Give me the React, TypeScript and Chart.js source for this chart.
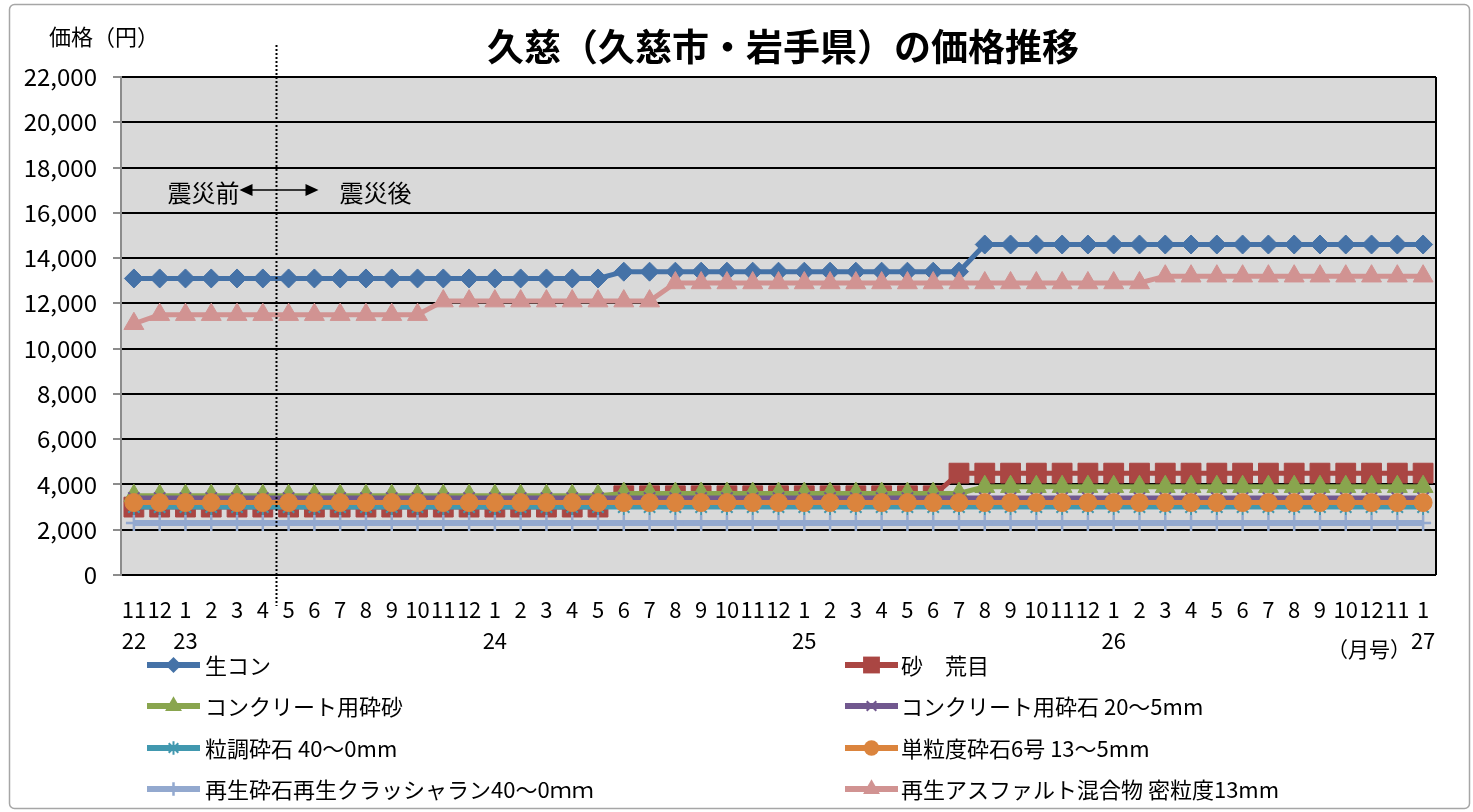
import React, { useEffect, useRef } from 'react';
import { Chart, registerables } from 'chart.js';

Chart.register(...registerables);

const FONT = '"Noto Sans CJK JP", "Noto Sans", sans-serif';

const TITLE = '久慈（久慈市・岩手県）の価格推移';
const Y_TITLE = '価格（円）';
const X_UNIT = '（月号）';
const BEFORE_LABEL = '震災前';
const AFTER_LABEL = '震災後';

const MONTH_LABELS = [
  '11', '12',
  '1', '2', '3', '4', '5', '6', '7', '8', '9', '10', '11', '12',
  '1', '2', '3', '4', '5', '6', '7', '8', '9', '10', '11', '12',
  '1', '2', '3', '4', '5', '6', '7', '8', '9', '10', '11', '12',
  '1', '2', '3', '4', '5', '6', '7', '8', '9', '10', '12', '11',
  '1',
];
const YEAR_LABELS = [
  '22', '',
  '23', '', '', '', '', '', '', '', '', '', '', '',
  '24', '', '', '', '', '', '', '', '', '', '', '',
  '25', '', '', '', '', '', '', '', '', '', '', '',
  '26', '', '', '', '', '', '', '', '', '', '', '',
  '27',
];

const Y_MIN = 0;
const Y_MAX = 22000;
const Y_STEP = 2000;

const SERIES_NAMES = [
  '生コン',
  '砂　荒目',
  'コンクリート用砕砂',
  'コンクリート用砕石 20～5mm',
  '粒調砕石 40～0mm',
  '単粒度砕石6号 13～5mm',
  '再生砕石再生クラッシャラン40～0ｍｍ',
  '再生アスファルト混合物 密粒度13mm',
];

const NAMA_CON = [
  13100, 13100,
  13100, 13100, 13100, 13100, 13100, 13100, 13100, 13100, 13100, 13100, 13100, 13100,
  13100, 13100, 13100, 13100, 13100, 13400, 13400, 13400, 13400, 13400, 13400, 13400,
  13400, 13400, 13400, 13400, 13400, 13400, 13400, 14600, 14600, 14600, 14600, 14600,
  14600, 14600, 14600, 14600, 14600, 14600, 14600, 14600, 14600, 14600, 14600, 14600,
  14600,
];
const SUNA_ARAME = [
  3000, 3000,
  3000, 3000, 3000, 3000, 3000, 3000, 3000, 3000, 3000, 3000, 3000, 3000,
  3000, 3000, 3000, 3000, 3000, 3500, 3500, 3500, 3500, 3500, 3500, 3500,
  3500, 3500, 3500, 3500, 3500, 3500, 4500, 4500, 4500, 4500, 4500, 4500,
  4500, 4500, 4500, 4500, 4500, 4500, 4500, 4500, 4500, 4500, 4500, 4500,
  4500,
];
const SAISA = [
  3500, 3500,
  3500, 3500, 3500, 3500, 3500, 3500, 3500, 3500, 3500, 3500, 3500, 3500,
  3500, 3500, 3500, 3500, 3500, 3600, 3600, 3600, 3600, 3600, 3600, 3600,
  3600, 3600, 3600, 3600, 3600, 3600, 3600, 3900, 3900, 3900, 3900, 3900,
  3900, 3900, 3900, 3900, 3900, 3900, 3900, 3900, 3900, 3900, 3900, 3900,
  3900,
];
const SAISEKI = [
  3400, 3400,
  3400, 3400, 3400, 3400, 3400, 3400, 3400, 3400, 3400, 3400, 3400, 3400,
  3400, 3400, 3400, 3400, 3400, 3400, 3400, 3400, 3400, 3400, 3400, 3400,
  3400, 3400, 3400, 3400, 3400, 3400, 3400, 3400, 3400, 3400, 3400, 3400,
  3400, 3400, 3400, 3400, 3400, 3400, 3400, 3400, 3400, 3400, 3400, 3400,
  3400,
];
const RYUCHO = [
  3000, 3000,
  3000, 3000, 3000, 3000, 3000, 3000, 3000, 3000, 3000, 3000, 3000, 3000,
  3000, 3000, 3000, 3000, 3000, 3000, 3000, 3000, 3000, 3000, 3000, 3000,
  3000, 3000, 3000, 3000, 3000, 3000, 3000, 3000, 3000, 3000, 3000, 3000,
  3000, 3000, 3000, 3000, 3000, 3000, 3000, 3000, 3000, 3000, 3000, 3000,
  3000,
];
const TANRYUDO = [
  3200, 3200,
  3200, 3200, 3200, 3200, 3200, 3200, 3200, 3200, 3200, 3200, 3200, 3200,
  3200, 3200, 3200, 3200, 3200, 3200, 3200, 3200, 3200, 3200, 3200, 3200,
  3200, 3200, 3200, 3200, 3200, 3200, 3200, 3200, 3200, 3200, 3200, 3200,
  3200, 3200, 3200, 3200, 3200, 3200, 3200, 3200, 3200, 3200, 3200, 3200,
  3200,
];
const SAISEI = [
  2300, 2300,
  2300, 2300, 2300, 2300, 2300, 2300, 2300, 2300, 2300, 2300, 2300, 2300,
  2300, 2300, 2300, 2300, 2300, 2300, 2300, 2300, 2300, 2300, 2300, 2300,
  2300, 2300, 2300, 2300, 2300, 2300, 2300, 2300, 2300, 2300, 2300, 2300,
  2300, 2300, 2300, 2300, 2300, 2300, 2300, 2300, 2300, 2300, 2300, 2300,
  2300,
];
const ASPHALT = [
  11100, 11500,
  11500, 11500, 11500, 11500, 11500, 11500, 11500, 11500, 11500, 11500, 12100, 12100,
  12100, 12100, 12100, 12100, 12100, 12100, 12100, 12900, 12900, 12900, 12900, 12900,
  12900, 12900, 12900, 12900, 12900, 12900, 12900, 12900, 12900, 12900, 12900, 12900,
  12900, 12900, 13200, 13200, 13200, 13200, 13200, 13200, 13200, 13200, 13200, 13200,
  13200,
];

const SERIES_VALUES = [NAMA_CON, SUNA_ARAME, SAISA, SAISEKI, RYUCHO, TANRYUDO, SAISEI, ASPHALT];

const SERIES_STYLE = [
  { color: '#4572A7', point: 'rectRot', radius: 9.5, lw: 5, pbw: 1 },
  { color: '#AA4643', point: 'rect', radius: 14, lw: 5, pbw: 1 },
  { color: '#89A54E', point: 'triangle', radius: 11.5, lw: 5, pbw: 1 },
  { color: '#71588F', point: 'crossRot', radius: 8, lw: 5, pbw: 2 },
  { color: '#4198AF', point: 'star', radius: 8, lw: 5, pbw: 2 },
  { color: '#DB843D', point: 'circle', radius: 9, lw: 5, pbw: 1 },
  { color: '#93A9CF', point: 'cross', radius: 8, lw: 6, pbw: 2.5 },
  { color: '#D19392', point: 'triangle', radius: 11.5, lw: 5, pbw: 1 },
];

function drawMarker(ctx: CanvasRenderingContext2D, style: string, x: number, y: number, r: number, color: string, bw: number) {
  ctx.save();
  ctx.fillStyle = color;
  ctx.strokeStyle = color;
  ctx.lineWidth = bw;
  ctx.beginPath();
  switch (style) {
    case 'rectRot':
      ctx.moveTo(x - r, y); ctx.lineTo(x, y - r); ctx.lineTo(x + r, y); ctx.lineTo(x, y + r); ctx.closePath(); ctx.fill();
      break;
    case 'rect': {
      const s = r * Math.SQRT1_2;
      ctx.rect(x - s, y - s, 2 * s, 2 * s); ctx.fill();
      break;
    }
    case 'triangle':
      ctx.moveTo(x, y - r); ctx.lineTo(x + 0.866 * r, y + 0.5 * r); ctx.lineTo(x - 0.866 * r, y + 0.5 * r); ctx.closePath(); ctx.fill();
      break;
    case 'circle':
      ctx.arc(x, y, r, 0, Math.PI * 2); ctx.fill();
      break;
    case 'crossRot': {
      const d = r * Math.SQRT1_2;
      ctx.moveTo(x - d, y - d); ctx.lineTo(x + d, y + d); ctx.moveTo(x - d, y + d); ctx.lineTo(x + d, y - d); ctx.stroke();
      break;
    }
    case 'cross':
      ctx.moveTo(x - r, y); ctx.lineTo(x + r, y); ctx.moveTo(x, y - r); ctx.lineTo(x, y + r); ctx.stroke();
      break;
    case 'star': {
      const d = r * Math.SQRT1_2;
      ctx.moveTo(x - d, y - d); ctx.lineTo(x + d, y + d); ctx.moveTo(x - d, y + d); ctx.lineTo(x + d, y - d);
      ctx.moveTo(x, y - r); ctx.lineTo(x, y + r);
      ctx.stroke();
      break;
    }
  }
  ctx.restore();
}

const decoPlugin = {
  id: 'deco',
  beforeDraw(chart: any) {
    const { ctx, chartArea: a } = chart;
    ctx.save();
    ctx.fillStyle = '#FFFFFF';
    ctx.fillRect(0, 0, chart.width, chart.height);
    ctx.fillStyle = '#D9D9D9';
    ctx.fillRect(a.left, a.top, a.right - a.left, a.bottom - a.top);
    ctx.restore();
  },
  afterDraw(chart: any) {
    const { ctx, chartArea: a } = chart;
    const xs = chart.scales.x;
    ctx.save();

    // outer frame
    ctx.strokeStyle = '#A6A6A6';
    ctx.lineWidth = 1.5;
    ctx.beginPath();
    (ctx as any).roundRect(9.5, 4.5, 1460, 804, 5);
    ctx.stroke();

    // plot right border
    ctx.strokeStyle = '#000';
    ctx.lineWidth = 2;
    ctx.beginPath();
    ctx.moveTo(a.right, a.top);
    ctx.lineTo(a.right, a.bottom);
    ctx.stroke();

    // title
    ctx.fillStyle = '#000';
    ctx.font = `bold 37px ${FONT}`;
    ctx.textAlign = 'center';
    ctx.textBaseline = 'middle';
    ctx.fillText(TITLE, 783, 47);

    // y title
    ctx.font = `22px ${FONT}`;
    ctx.fillText(Y_TITLE, 104, 37);

    // dotted separator between 4 and 5 (H23)
    const sepX = Math.round(xs.getPixelForValue(5.5)) + 0.5;
    ctx.strokeStyle = '#000';
    ctx.lineWidth = 2;
    ctx.setLineDash([2, 2]);
    ctx.beginPath();
    ctx.moveTo(sepX, 45);
    ctx.lineTo(sepX, 606);
    ctx.stroke();
    ctx.setLineDash([]);

    // before / after annotation
    const ay = 190;
    ctx.font = `24px ${FONT}`;
    ctx.textAlign = 'right';
    ctx.fillText(BEFORE_LABEL, sepX - 37, ay + 3);
    ctx.textAlign = 'left';
    ctx.fillText(AFTER_LABEL, sepX + 63, ay + 3);
    const x1 = sepX - 37, x2 = sepX + 42;
    ctx.lineWidth = 1.5;
    ctx.beginPath();
    ctx.moveTo(x1 + 10, ay);
    ctx.lineTo(x2 - 10, ay);
    ctx.stroke();
    ctx.beginPath();
    ctx.moveTo(x1, ay); ctx.lineTo(x1 + 13, ay - 6); ctx.lineTo(x1 + 13, ay + 6); ctx.closePath();
    ctx.fill();
    ctx.beginPath();
    ctx.moveTo(x2, ay); ctx.lineTo(x2 - 13, ay - 6); ctx.lineTo(x2 - 13, ay + 6); ctx.closePath();
    ctx.fill();

    // x unit
    ctx.font = `21px ${FONT}`;
    ctx.textAlign = 'center';
    ctx.fillText(X_UNIT, 1369, 649);

    // legend
    const colLine = [[147, 200], [845, 898]];
    const colText = [205, 901];
    const rowY = [665, 706, 748, 789];
    ctx.font = `22px ${FONT}`;
    ctx.textAlign = 'left';
    ctx.textBaseline = 'middle';
    SERIES_NAMES.forEach((name, i) => {
      const col = i % 2;
      const row = Math.floor(i / 2);
      const st = SERIES_STYLE[i];
      const y = rowY[row];
      ctx.strokeStyle = st.color;
      ctx.lineWidth = 6;
      ctx.beginPath();
      ctx.moveTo(colLine[col][0], y);
      ctx.lineTo(colLine[col][1], y);
      ctx.stroke();
      drawMarker(ctx, st.point, (colLine[col][0] + colLine[col][1]) / 2, y, st.radius * 0.85, st.color, st.pbw);
      ctx.fillStyle = '#000';
      ctx.fillText(name, colText[col], y + 1);
    });

    ctx.restore();
  },
};

export default function App() {
  const ref = useRef<HTMLCanvasElement | null>(null);
  useEffect(() => {
    if (!ref.current) return;
    const labels = MONTH_LABELS.map((m, i) => [m, YEAR_LABELS[i]]);
    const datasets = SERIES_NAMES.map((name, i) => {
      const st = SERIES_STYLE[i];
      return {
        label: name,
        data: SERIES_VALUES[i],
        borderColor: st.color,
        backgroundColor: st.color,
        borderWidth: st.lw,
        pointStyle: st.point,
        pointRadius: st.radius,
        pointBorderWidth: st.pbw,
        pointBorderColor: st.color,
        pointBackgroundColor: st.color,
        tension: 0,
        order: -i,
      };
    });
    const chart = new Chart(ref.current, {
      type: 'line',
      data: { labels, datasets } as any,
      options: {
        responsive: false,
        animation: false,
        events: [],
        layout: { padding: { left: 0, top: 77, right: 37, bottom: 0 } },
        plugins: { legend: { display: false }, title: { display: false }, tooltip: { enabled: false } },
        scales: {
          x: {
            type: 'category',
            offset: true,
            grid: { display: false, drawTicks: false },
            border: { display: false },
            ticks: {
              autoSkip: false,
              maxRotation: 0,
              minRotation: 0,
              padding: 19,
              color: '#000',
              font: { family: FONT, size: 22, lineHeight: 1.4 },
            },
            afterFit: (s: any) => { s.height = 237; },
          },
          y: {
            min: Y_MIN,
            max: Y_MAX,
            grid: { color: '#000', lineWidth: 2, tickColor: '#8C8C8C', tickLength: 8, drawTicks: true },
            border: { color: '#8C8C8C', width: 2 },
            ticks: {
              stepSize: Y_STEP,
              padding: 16,
              color: '#000',
              font: { family: FONT, size: 24 },
              callback: (v: any) => Number(v).toLocaleString('en-US'),
            },
            afterFit: (s: any) => { s.width = 121; },
          },
        },
      } as any,
      plugins: [decoPlugin],
    });
    return () => chart.destroy();
  }, []);
  return (
    <div style={{ position: 'fixed', left: 0, top: 0, width: 1473, height: 812, background: '#fff' }}>
      <canvas ref={ref} width={1473} height={812} style={{ display: 'block', width: 1473, height: 812 }} />
    </div>
  );
}
